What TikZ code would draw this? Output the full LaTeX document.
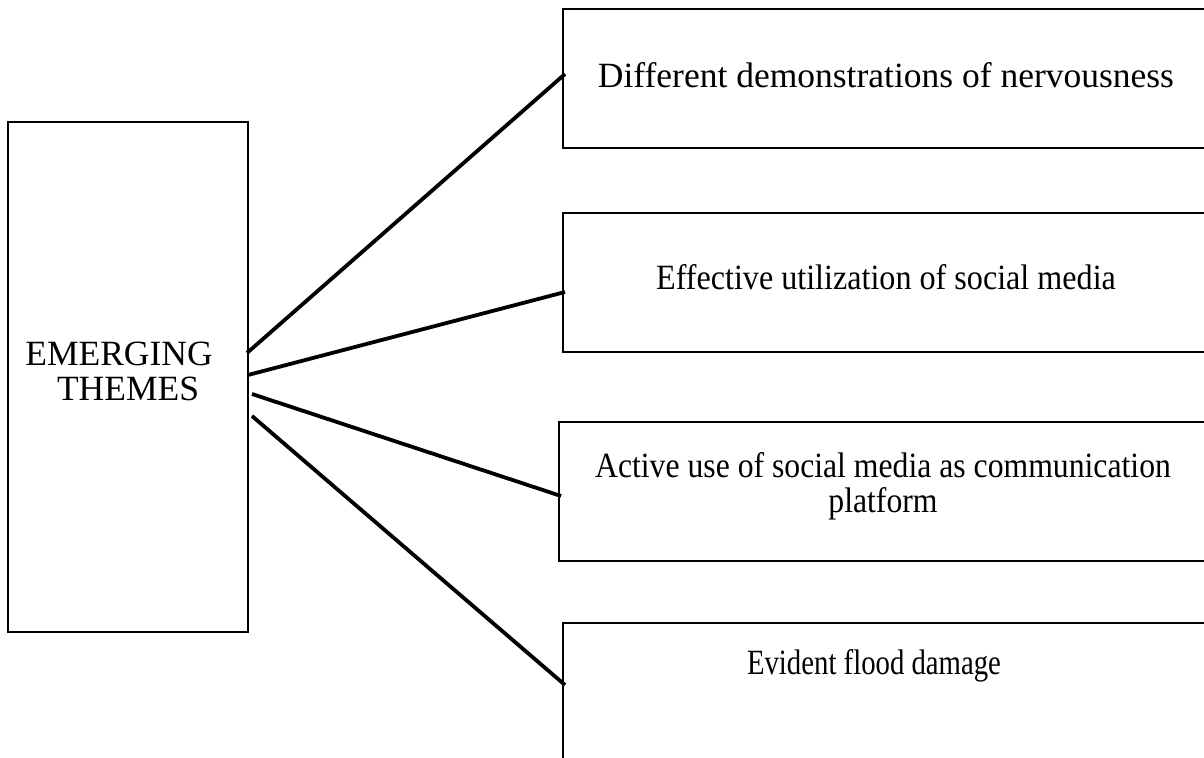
\documentclass[tikz,border=0pt]{standalone}
\usepackage{fontspec}
\setmainfont{Liberation Serif}
\begin{document}
\begin{tikzpicture}[x=0.5pt,y=-0.5pt,
  box/.style={draw,line width=1pt,inner sep=0pt},
  link/.style={line width=1.9pt},
  lbl/.style={font=\fontsize{17.75}{17.5}\selectfont,align=center,inner sep=0pt,anchor=base}]
\useasboundingbox (0,0) rectangle (1204,758);
\clip (0,0) rectangle (1204,758);
\node[box,minimum width=240pt*0.5,minimum height=510pt*0.5] (L) at (127.5,377) {};
\node[box,minimum width=680pt*0.5,minimum height=138.5pt*0.5] (B1) at (902.5,78.75) {};
\node[box,minimum width=680pt*0.5,minimum height=139pt*0.5] (B2) at (902.5,282.5) {};
\node[box,minimum width=684pt*0.5,minimum height=139pt*0.5] (B3) at (901,491.5) {};
\node[box,minimum width=680pt*0.5,minimum height=180pt*0.5] (B4) at (902.5,713) {};
\node[lbl] (tLa) at (119,366) {EMERGING};
\node[lbl] (tLb) at (128,401) {THEMES};
\node[lbl] (t1) at (886,88) {Different demonstrations of nervousness};
\node[lbl,xscale=0.905,transform shape] (t2) at (886,290) {Effective utilization of social media};
\node[lbl,xscale=0.893,transform shape] (t3) at (883,513) {Active use of social media as communication\\platform};
\node[lbl,xscale=0.81,transform shape] (t4) at (874,674) {Evident flood damage};
\coordinate (s1) at (247,353);
\coordinate (s2) at (248,375);
\coordinate (s3) at (252,394);
\coordinate (s4) at (252,416);
\coordinate (e1) at (565,74);
\coordinate (e2) at (565,292);
\coordinate (e3) at (561,496);
\coordinate (e4) at (565,685);
\draw[link] (s1) -- (e1);
\draw[link] (s2) -- (e2);
\draw[link] (s3) -- (e3);
\draw[link] (s4) -- (e4);
\end{tikzpicture}
\end{document}
